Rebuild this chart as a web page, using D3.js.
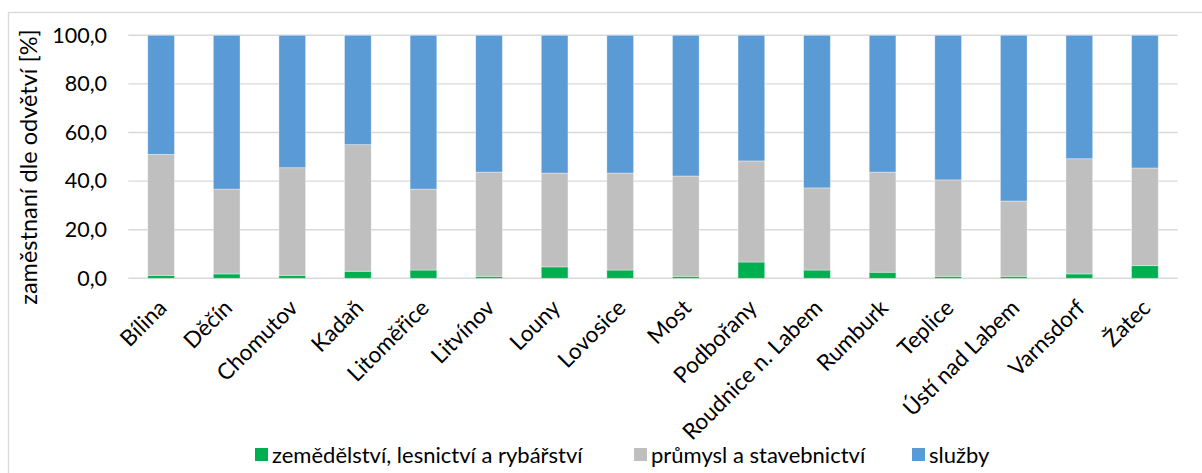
<!DOCTYPE html>
<html><head><meta charset="utf-8">
<script src="https://cdn.jsdelivr.net/npm/d3@7"></script>
<style>html,body{margin:0;padding:0;background:#fff;}svg{display:block;}text{font-family:Lato,"Open Sans",sans-serif;fill:#000;}</style>
</head><body><svg id="c" width="1202" height="473"></svg>
<script>
const categories = ["Bílina","Děčín","Chomutov","Kadaň","Litoměřice","Litvínov","Louny","Lovosice","Most","Podbořany","Roudnice n. Labem","Rumburk","Teplice","Ústí nad Labem","Varnsdorf","Žatec"];
const agriculture = [1.2,1.8,1.2,2.9,3.4,0.8,4.7,3.4,0.8,6.7,3.4,2.5,0.8,0.8,1.8,5.2];
const industry    = [49.8,34.9,44.3,52.1,33.3,42.9,38.6,39.9,41.3,41.6,33.8,41.2,39.7,31.0,47.4,40.2];
const services    = [49.0,63.3,54.5,45.0,63.3,56.3,56.7,56.7,57.9,51.7,62.8,56.3,59.5,68.2,50.8,54.6];
const seriesNames = ["zemědělství, lesnictví a rybářství","průmysl a stavebnictví","služby"];
const yTicks = [0,20,40,60,80,100];
const yTitle = "zaměstnaní dle odvětví [%]";

const colors = ["#00b050","#bfbfbf","#5b9bd5"];
const svg = d3.select("#c");
svg.append("rect").attr("x",8.5).attr("y",12.5).attr("width",1200).attr("height",470)
  .attr("fill","none").attr("stroke","#d9d9d9").attr("stroke-width",1.3);

const x = d3.scaleBand().domain(categories).range([128.3,1177.7]).paddingInner(0.593).paddingOuter(0.2965);
const y = d3.scaleLinear().domain([0,100]).range([278.3,35.3]);

// gridlines
svg.append("g").selectAll("line").data(yTicks).join("line")
  .attr("x1",128.3).attr("x2",1177.7).attr("y1",d=>y(d)).attr("y2",d=>y(d))
  .attr("stroke","#d9d9d9").attr("stroke-width",1.4);

const rows = categories.map((c,i)=>({cat:c,a:agriculture[i],b:industry[i],s:services[i]}));
const stack = d3.stack().keys(["a","b","s"])(rows);
svg.append("g").selectAll("g").data(stack).join("g").attr("fill",(d,i)=>colors[i])
  .selectAll("rect").data(d=>d).join("rect")
  .attr("x",d=>x(d.data.cat)).attr("width",x.bandwidth())
  .attr("y",d=>y(d[1])).attr("height",d=>y(d[0])-y(d[1]))
  .attr("stroke","rgba(255,255,255,0.45)").attr("stroke-width",0.8);

// y axis labels
const fmt = d=>d3.format(".1f")(d).replace(".",",");
const yAxis = d3.axisLeft(y).tickValues(yTicks).tickFormat(fmt).tickSize(0).tickPadding(0);
const ya = svg.append("g").attr("transform","translate(107,0)").call(yAxis);
ya.select(".domain").remove();
ya.selectAll("text").attr("font-family","Lato").attr("font-size",21.5).attr("fill","#000");

// x axis labels
const xAxis = d3.axisBottom(x).tickSize(0).tickPadding(0);
const xa = svg.append("g").attr("transform","translate(0,278.3)").call(xAxis);
xa.select(".domain").remove();
xa.selectAll("text").attr("font-family","Lato").attr("font-size",22.5).attr("fill","#000")
  .attr("text-anchor","end").attr("dy",0)
  .attr("transform","translate(7,31) rotate(-45)").attr("y",0).attr("x",0);

// y title
svg.append("text").attr("transform","translate(37,167) rotate(-90)").attr("text-anchor","middle")
  .attr("font-size",23.5).text(yTitle);

// legend
const legX = [255,634,912];
const lg = svg.append("g").selectAll("g").data(seriesNames).join("g")
  .attr("transform",(d,i)=>`translate(${legX[i]},448)`);
lg.append("rect").attr("width",13).attr("height",13).attr("fill",(d,i)=>colors[i]);
lg.append("text").attr("x",17).attr("y",14.5).attr("font-size",22).text(d=>d);
</script></body></html>
